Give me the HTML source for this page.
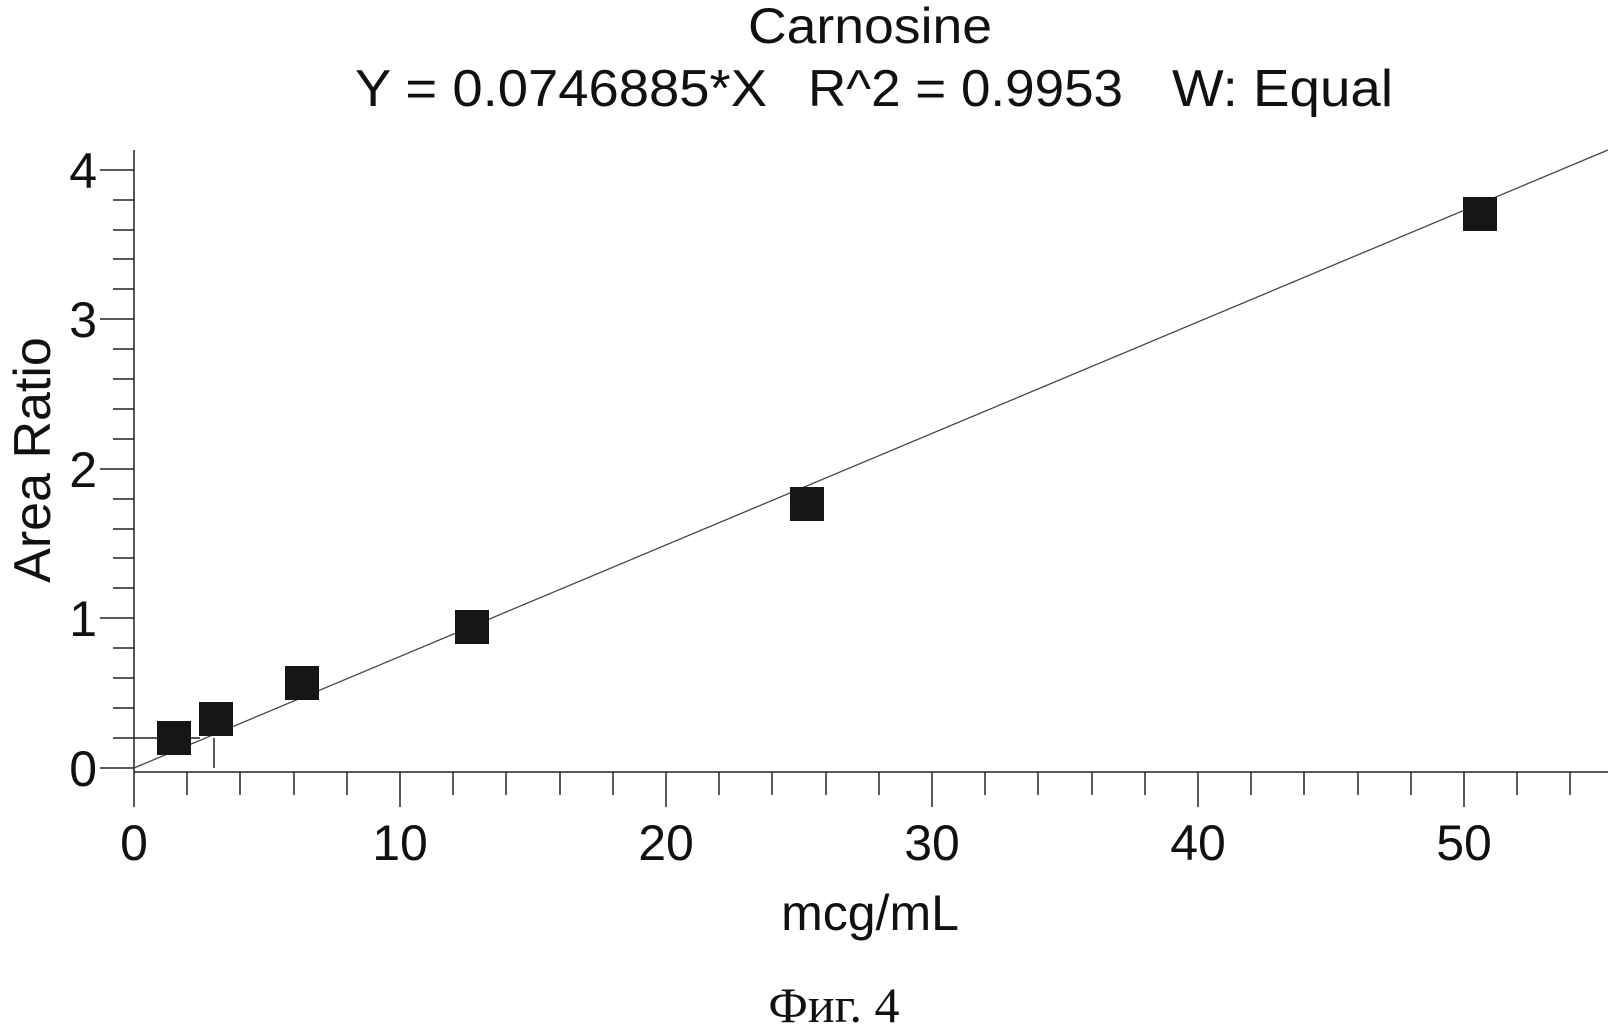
<!DOCTYPE html>
<html><head><meta charset="utf-8"><style>html,body{margin:0;padding:0;background:#fff}svg{display:block}</style></head>
<body>
<svg width="1614" height="1035" viewBox="0 0 1614 1035" xmlns="http://www.w3.org/2000/svg" font-family="Liberation Sans, sans-serif" fill="#111">
<text x="748" y="43" font-size="50" textLength="244" lengthAdjust="spacingAndGlyphs">Carnosine</text>
<text x="355" y="106" font-size="52" textLength="412" lengthAdjust="spacingAndGlyphs">Y = 0.0746885*X</text>
<text x="808" y="106" font-size="52" textLength="315" lengthAdjust="spacingAndGlyphs">R^2 = 0.9953</text>
<text x="1172" y="106" font-size="52" textLength="221" lengthAdjust="spacingAndGlyphs">W: Equal</text>
<g stroke="#222" stroke-width="1.5" fill="none">
<line x1="134" y1="150" x2="134" y2="772"/>
<line x1="134" y1="772" x2="1608" y2="772"/>
<line x1="100" y1="768" x2="134" y2="768"/>
<line x1="100" y1="618" x2="134" y2="618"/>
<line x1="100" y1="469" x2="134" y2="469"/>
<line x1="100" y1="319" x2="134" y2="319"/>
<line x1="100" y1="170" x2="134" y2="170"/>
<line x1="113" y1="738" x2="134" y2="738"/><line x1="113" y1="708" x2="134" y2="708"/><line x1="113" y1="678" x2="134" y2="678"/><line x1="113" y1="648" x2="134" y2="648"/>
<line x1="113" y1="588" x2="134" y2="588"/><line x1="113" y1="558" x2="134" y2="558"/><line x1="113" y1="529" x2="134" y2="529"/><line x1="113" y1="499" x2="134" y2="499"/>
<line x1="113" y1="439" x2="134" y2="439"/><line x1="113" y1="409" x2="134" y2="409"/><line x1="113" y1="379" x2="134" y2="379"/><line x1="113" y1="349" x2="134" y2="349"/>
<line x1="113" y1="289" x2="134" y2="289"/><line x1="113" y1="259" x2="134" y2="259"/><line x1="113" y1="230" x2="134" y2="230"/><line x1="113" y1="200" x2="134" y2="200"/>
<line x1="134" y1="772" x2="134" y2="807"/><line x1="400" y1="772" x2="400" y2="807"/><line x1="666" y1="772" x2="666" y2="807"/><line x1="932" y1="772" x2="932" y2="807"/><line x1="1198" y1="772" x2="1198" y2="807"/><line x1="1464" y1="772" x2="1464" y2="807"/>
<line x1="187" y1="772" x2="187" y2="795"/><line x1="240" y1="772" x2="240" y2="795"/><line x1="294" y1="772" x2="294" y2="795"/><line x1="347" y1="772" x2="347" y2="795"/>
<line x1="453" y1="772" x2="453" y2="795"/><line x1="506" y1="772" x2="506" y2="795"/><line x1="560" y1="772" x2="560" y2="795"/><line x1="613" y1="772" x2="613" y2="795"/>
<line x1="719" y1="772" x2="719" y2="795"/><line x1="772" y1="772" x2="772" y2="795"/><line x1="826" y1="772" x2="826" y2="795"/><line x1="879" y1="772" x2="879" y2="795"/>
<line x1="985" y1="772" x2="985" y2="795"/><line x1="1038" y1="772" x2="1038" y2="795"/><line x1="1092" y1="772" x2="1092" y2="795"/><line x1="1145" y1="772" x2="1145" y2="795"/>
<line x1="1251" y1="772" x2="1251" y2="795"/><line x1="1304" y1="772" x2="1304" y2="795"/><line x1="1358" y1="772" x2="1358" y2="795"/><line x1="1411" y1="772" x2="1411" y2="795"/>
<line x1="1517" y1="772" x2="1517" y2="795"/><line x1="1570" y1="772" x2="1570" y2="795"/>
<line x1="134" y1="738" x2="200" y2="738"/><line x1="214" y1="738" x2="214" y2="768"/>
</g>
<line x1="134" y1="768" x2="1608" y2="150" stroke="#444" stroke-width="1.3"/>
<g fill="#161616">
<rect x="157" y="721" width="34" height="34"/>
<rect x="199" y="702" width="34" height="34"/>
<rect x="285" y="666" width="34" height="34"/>
<rect x="455" y="610" width="34" height="34"/>
<rect x="790" y="487" width="34" height="34"/>
<rect x="1463" y="197" width="34" height="34"/>
</g>
<g font-size="50" text-anchor="end">
<text x="97" y="786">0</text><text x="97" y="636">1</text><text x="97" y="487">2</text><text x="97" y="337">3</text><text x="97" y="188">4</text>
</g>
<g font-size="50" text-anchor="middle">
<text x="134" y="860">0</text><text x="400" y="860">10</text><text x="666" y="860">20</text><text x="932" y="860">30</text><text x="1198" y="860">40</text><text x="1464" y="860">50</text>
<text x="870" y="930">mcg/mL</text>
<text transform="translate(50,460) rotate(-90)" font-size="52">Area Ratio</text>
</g>
<text x="834" y="1022" font-size="50" text-anchor="middle" font-family="Liberation Serif, serif">Фиг. 4</text>
</svg>
</body></html>
